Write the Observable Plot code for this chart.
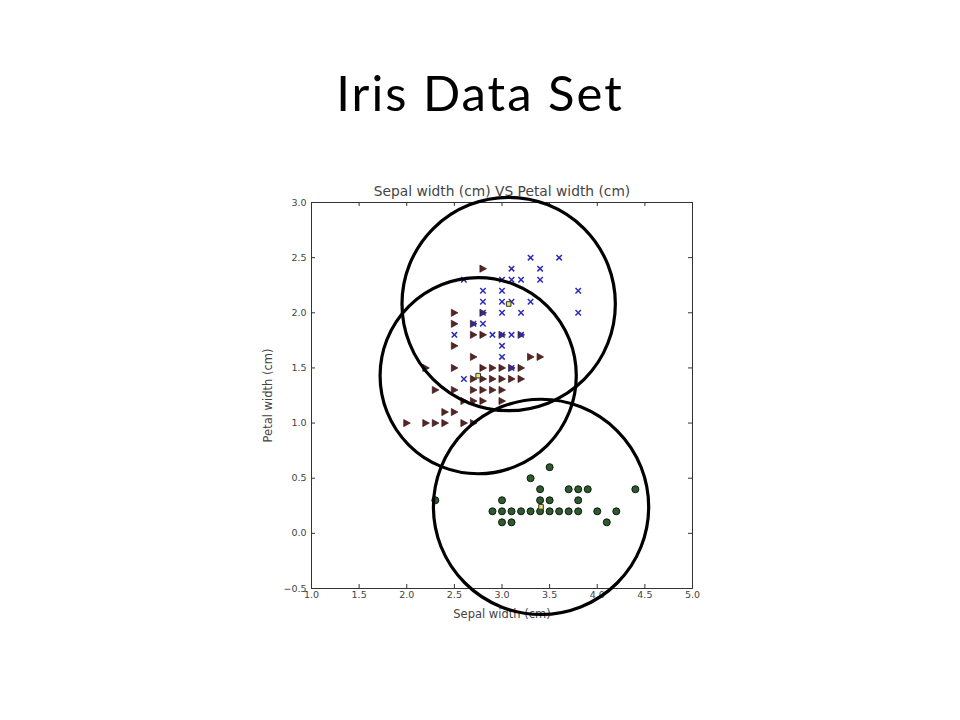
<!DOCTYPE html>
<html><head><meta charset="utf-8">
<script src="https://cdn.jsdelivr.net/npm/d3@7"></script>
<script src="https://cdn.jsdelivr.net/npm/@observablehq/plot@0.6"></script>
<style>
body{margin:0;background:#fff;width:960px;}
#title{height:150px;box-sizing:border-box;padding-top:68px;text-align:center;font-family:Lato,"Noto Sans",sans-serif;font-size:49px;line-height:49px;letter-spacing:2px;color:#000;}
#chart svg{display:block;}
</style></head><body>
<div id="title">Iris Data Set</div>
<div id="chart"></div>
<script>
const slideTitle = "Iris Data Set";
const chartTitle = "Sepal width (cm) VS Petal width (cm)";
const xLabel = "Sepal width (cm)";
const yLabel = "Petal width (cm)";
const xTicks = [1.0, 1.5, 2.0, 2.5, 3.0, 3.5, 4.0, 4.5, 5.0];
const yTicks = [-0.5, 0.0, 0.5, 1.0, 1.5, 2.0, 2.5, 3.0];

// [sepal width, petal width] — cluster drawn as brown right-pointing triangles
const clusterBrown = [[2.8,2.4],[2.5,2.0],[2.8,2.0],[2.5,1.9],[2.7,1.9],[2.7,1.8],[2.8,1.8],[3.0,1.8],[3.2,1.8],[2.5,1.7],[2.7,1.6],[3.3,1.6],[3.4,1.6],[2.2,1.5],[2.5,1.5],[2.8,1.5],[2.9,1.5],[3.0,1.5],[3.1,1.5],[3.2,1.5],[2.7,1.4],[2.8,1.4],[2.9,1.4],[3.0,1.4],[3.1,1.4],[3.2,1.4],[2.3,1.3],[2.5,1.3],[2.7,1.3],[2.8,1.3],[2.9,1.3],[3.0,1.3],[2.6,1.2],[2.7,1.2],[2.8,1.2],[3.0,1.2],[2.4,1.1],[2.5,1.1],[2.0,1.0],[2.2,1.0],[2.3,1.0],[2.4,1.0],[2.6,1.0],[2.7,1.0]];
// cluster drawn as blue crosses
const clusterBlue = [[3.3,2.5],[3.6,2.5],[3.1,2.4],[3.4,2.4],[2.6,2.3],[3.0,2.3],[3.1,2.3],[3.2,2.3],[3.4,2.3],[2.8,2.2],[3.0,2.2],[3.8,2.2],[2.8,2.1],[3.0,2.1],[3.1,2.1],[3.3,2.1],[2.8,2.0],[3.0,2.0],[3.2,2.0],[3.8,2.0],[2.7,1.9],[2.8,1.9],[2.5,1.8],[2.9,1.8],[3.0,1.8],[3.1,1.8],[3.2,1.8],[3.0,1.7],[3.0,1.6],[3.1,1.5],[2.6,1.4]];
// cluster drawn as green circles
const clusterGreen = [[3.0,0.1],[3.1,0.1],[4.1,0.1],[2.9,0.2],[3.0,0.2],[3.1,0.2],[3.2,0.2],[3.3,0.2],[3.4,0.2],[3.5,0.2],[3.6,0.2],[3.7,0.2],[3.8,0.2],[4.0,0.2],[4.2,0.2],[2.3,0.3],[3.0,0.3],[3.4,0.3],[3.5,0.3],[3.8,0.3],[3.4,0.4],[3.7,0.4],[3.8,0.4],[3.9,0.4],[4.4,0.4],[3.3,0.5],[3.5,0.6]];

// cluster centroids and cluster radii (cm, in sepal-width units)
const centroidX = [3.07, 2.75, 3.41];
const centroidY = [2.08, 1.43, 0.24];
const clusterRadius = [1.12, 1.03, 1.13];

const centroids = centroidX.map((x, i) => ({x, y: centroidY[i], radius: clusterRadius[i]}));

const W = 960, H = 488, mL = 311, mR = 268, mT = 52, mB = 50;
const innerW = W - mL - mR, innerH = H - mT - mB;
const pxPerUnit = innerW / (5 - 1);

const triRight = {draw(ctx, size) { const r = Math.sqrt(size / Math.PI); ctx.moveTo(r * 1.0, 0); ctx.lineTo(-r * 0.85, -r); ctx.lineTo(-r * 0.85, r); ctx.closePath(); }};
const cross = {draw(ctx, size) { const r = Math.sqrt(size / Math.PI) * 0.8; ctx.moveTo(-r, -r); ctx.lineTo(r, r); ctx.moveTo(-r, r); ctx.lineTo(r, -r); }};

const fmt = d3.format(".1f");

const chart = Plot.plot({
  width: W, height: H,
  marginLeft: mL, marginRight: mR, marginTop: mT, marginBottom: mB,
  style: {fontFamily: "DejaVu Sans", fontSize: "9.5px", color: "#333", background: "#fff"},
  x: {domain: [1, 5]},
  y: {domain: [-0.5, 3]},
  r: {type: "linear", domain: [0, 1], range: [0, pxPerUnit]},
  marks: [
    Plot.frame({stroke: "#333", strokeWidth: 1}),
    Plot.tickX(xTicks, {x: d => d, insetTop: innerH - 4, stroke: "#333"}),
    Plot.tickX(xTicks, {x: d => d, insetBottom: innerH - 4, stroke: "#333"}),
    Plot.tickY(yTicks, {y: d => d, insetRight: innerW - 4, stroke: "#333"}),
    Plot.tickY(yTicks, {y: d => d, insetLeft: innerW - 4, stroke: "#333"}),
    Plot.axisX({ticks: xTicks, tickSize: 0, tickPadding: 3, tickFormat: fmt, label: null, fill: "#444"}),
    Plot.axisY({ticks: yTicks, tickSize: 0, tickPadding: 5, tickFormat: fmt, label: null, fill: "#444"}),
    Plot.text([xLabel], {frameAnchor: "bottom", dy: 26, lineAnchor: "middle", textAnchor: "middle", fontSize: 11.5, fill: "#444"}),
    Plot.text([yLabel], {frameAnchor: "left", dx: -43, rotate: -90, textAnchor: "middle", lineAnchor: "middle", fontSize: 11.5, fill: "#444"}),
    Plot.text([chartTitle], {frameAnchor: "top", dy: -11, lineAnchor: "middle", textAnchor: "middle", fontSize: 13.8, fill: "#444"}),
    Plot.dot(clusterBrown, {x: d => d[0], y: d => d[1], symbol: triRight, r: 3.6, fill: "#5a2424", stroke: "#2a1010", strokeWidth: 0.6}),
    Plot.dot(clusterBlue, {x: d => d[0], y: d => d[1], symbol: cross, r: 3.4, fill: "none", stroke: "#2b2bb8", strokeWidth: 1.5}),
    Plot.dot(clusterGreen, {x: d => d[0], y: d => d[1], r: 3.5, fill: "#2f5a2f", stroke: "#0c1a0c", strokeWidth: 1}),
    Plot.dot(centroids, {x: "x", y: "y", symbol: "square", r: 2.6, fill: "#e6e66a", stroke: "#333", strokeWidth: 1}),
    Plot.dot(centroids, {x: "x", y: "y", r: "radius", fill: "none", stroke: "#000", strokeWidth: 3.2})
  ]
});
document.getElementById("chart").appendChild(chart);
</script>
</body></html>
